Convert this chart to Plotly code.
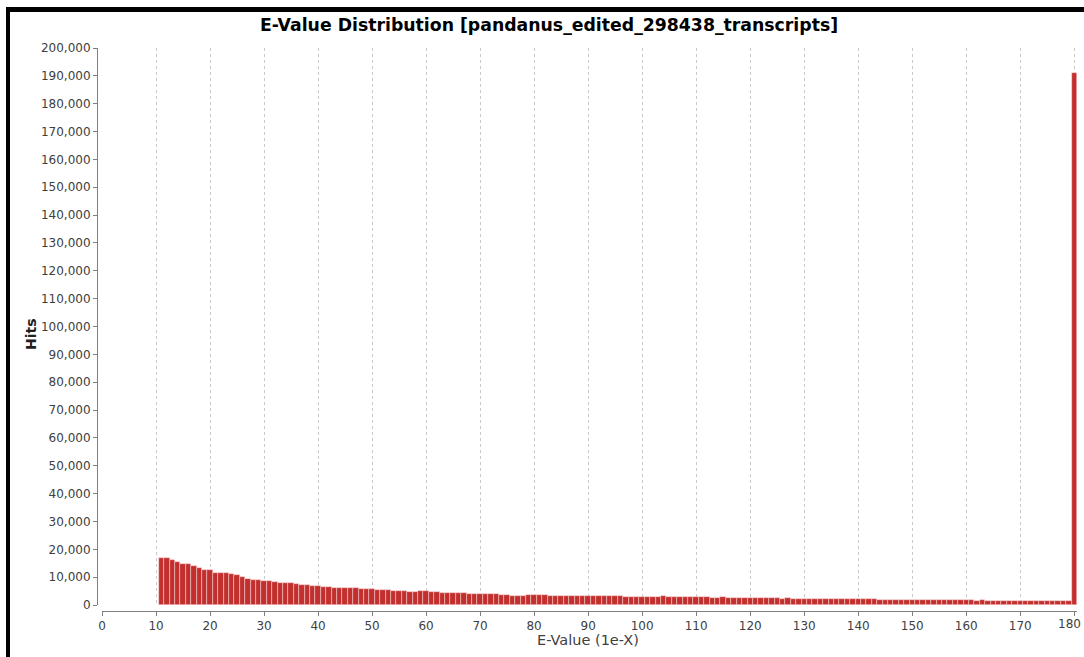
import plotly.graph_objects as go

# E-value exponent bins (1e-X) and hit counts per bin
evalue_exp = list(range(11, 181))
hits = [
    16900, 16700, 16000, 15500, 14800, 14700, 14000, 13300, 12700, 12500,  # 11-20
    11600, 11500, 11600, 11100, 10600, 9900, 9300, 9000, 8800, 8600,        # 21-30
    8500, 8400, 7900, 7800, 7800, 7400, 7200, 7100, 6800, 6700,             # 31-40
    6600, 6500, 6200, 6100, 6000, 6000, 6200, 5700, 5600, 5600,             # 41-50
    5500, 5500, 5300, 5200, 5200, 5000, 4800, 4700, 4900, 4900,             # 51-60
    4500, 4500, 4400, 4300, 4300, 4200, 4200, 4100, 4100, 4100,             # 61-70
    3900, 3800, 3800, 3700, 3700, 3400, 3300, 3300, 3700, 3600,             # 71-80
    3500, 3500, 3400, 3400, 3400, 3300, 3300, 3300, 3200, 3200,             # 81-90
    3100, 3200, 3100, 3100, 3200, 3200, 3000, 3000, 3000, 3000,             # 91-100
    2900, 2900, 2900, 3100, 2900, 2800, 2800, 2800, 2700, 2700,             # 101-110
    2700, 2700, 2600, 2600, 2700, 2600, 2600, 2500, 2500, 2500,             # 111-120
    2500, 2400, 2400, 2400, 2400, 2300, 2400, 2300, 2300, 2300,             # 121-130
    2200, 2200, 2200, 2100, 2100, 2100, 2100, 2100, 2000, 2100,             # 131-140
    2000, 2000, 2000, 1900, 1900, 1900, 1800, 1800, 1800, 1900,             # 141-150
    1800, 1800, 1800, 1700, 1800, 1700, 1700, 1700, 1700, 1700,             # 151-160
    1700, 1600, 1700, 1600, 1600, 1600, 1600, 1600, 1600, 1600,             # 161-170
    1600, 1500, 1500, 1500, 1500, 1500, 1500, 1500, 1500, 191000,           # 171-180
]
x_ticks = list(range(0, 181, 10))
y_ticks = list(range(0, 200001, 10000))

title_text = "E-Value Distribution [pandanus_edited_298438_transcripts]"
x_title = "E-Value (1e-X)"
y_title = "Hits"

W, H = 1084, 657
ML, MR, MT, MB = 97, 7, 48, 46
PW = W - ML - MR
PH = H - MT - MB


def px_x(p):
    return (p - ML) / PW


def px_y(p):
    return (H - MB - p) / PH


FONT = "DejaVu Sans"
AXIS_GREY = "#808080"
LABEL_GREY = "#404040"
X_MAX = 180.5

fig = go.Figure(
    go.Bar(
        x=evalue_exp,
        y=hits,
        width=1,
        marker=dict(color="#C1302E", line=dict(color="rgba(255,225,225,0.75)", width=0.6)),
        hoverinfo="x+y",
    )
)

# the last tick label sits against the right edge, so it is placed as an annotation
last_tick = x_ticks[-1]

fig.update_layout(
    width=W,
    height=H,
    margin=dict(l=ML, r=MR, t=MT, b=MB),
    paper_bgcolor="white",
    plot_bgcolor="white",
    showlegend=False,
    bargap=0,
    font=dict(family=FONT, size=12, color=LABEL_GREY),
    title=dict(
        text=f"<b>{title_text}</b>",
        x=549 / W,
        xanchor="center",
        y=1 - 25 / H,
        yanchor="middle",
        font=dict(family=FONT, size=17.3, color="black"),
    ),
    xaxis=dict(
        domain=[px_x(102), 1],
        range=[0, X_MAX],
        anchor="free",
        position=0,
        tickmode="array",
        tickvals=x_ticks,
        ticktext=[str(v) if v != last_tick else " " for v in x_ticks],
        ticks="outside",
        ticklen=4,
        tickcolor=AXIS_GREY,
        showline=True,
        linecolor=AXIS_GREY,
        linewidth=1,
        showgrid=True,
        gridcolor="#c8c8c8",
        griddash="dot",
        gridwidth=1,
        zeroline=False,
        tickfont=dict(family=FONT, size=12, color=LABEL_GREY),
    ),
    yaxis=dict(
        domain=[px_y(605), 1],
        range=[0, 200000],
        anchor="free",
        position=0,
        tickmode="array",
        tickvals=y_ticks,
        tickformat=",d",
        ticks="outside",
        ticklen=4,
        tickcolor=AXIS_GREY,
        showline=True,
        linecolor=AXIS_GREY,
        linewidth=1,
        showgrid=False,
        zeroline=False,
        tickfont=dict(family=FONT, size=12, color=LABEL_GREY),
    ),
    annotations=[
        dict(
            text=str(last_tick),
            xref="paper", yref="paper",
            x=px_x(W - 1), y=px_y(615),
            xanchor="right", yanchor="top",
            showarrow=False,
            font=dict(family=FONT, size=12, color=LABEL_GREY),
        ),
        dict(
            text=x_title,
            xref="paper", yref="paper",
            x=px_x(588), y=px_y(640),
            xanchor="center", yanchor="middle",
            showarrow=False,
            font=dict(family=FONT, size=14.5, color=LABEL_GREY),
        ),
        dict(
            text=f"<b>{y_title}</b>",
            xref="paper", yref="paper",
            x=px_x(31), y=px_y(334),
            xanchor="center", yanchor="middle",
            textangle=-90,
            showarrow=False,
            font=dict(family=FONT, size=14, color="#202020"),
        ),
    ],
    shapes=[
        # heavy black frame along the top and left edges
        dict(type="rect", xref="paper", yref="paper",
             x0=px_x(6), x1=px_x(W + 5), y0=px_y(12), y1=px_y(7),
             fillcolor="black", line=dict(width=0), layer="above"),
        dict(type="rect", xref="paper", yref="paper",
             x0=px_x(6), x1=px_x(10), y0=px_y(H + 5), y1=px_y(7),
             fillcolor="black", line=dict(width=0), layer="above"),
    ],
)

fig.write_html("out.html")
